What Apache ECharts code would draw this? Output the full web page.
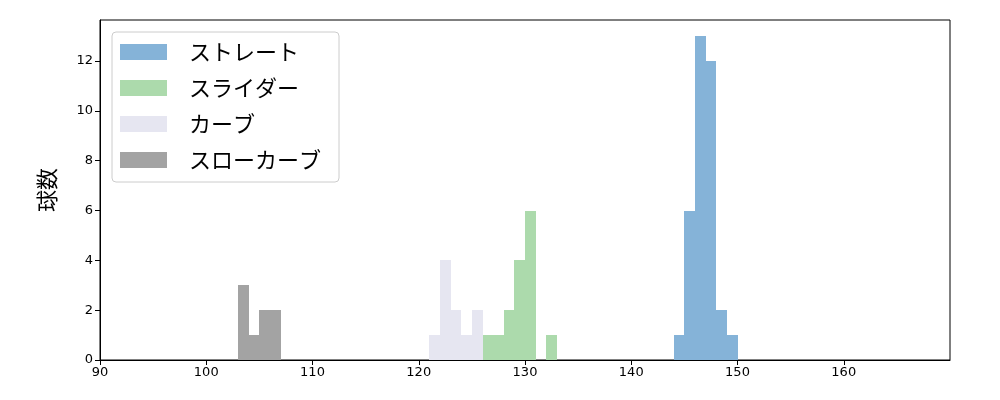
<!DOCTYPE html>
<html>
<head>
<meta charset="utf-8">
<script src="https://cdn.jsdelivr.net/npm/echarts@6/dist/echarts.min.js"></script>
<style>
    html, body { margin: 0; padding: 0; background: #fff; }
    #char1 { width: 1000px; height: 400px; }
</style>
</head>
<body>
<div id="char1"></div>
<script>
    // 球種ごとのヒストグラム (ビン開始値, 球数), ビン幅 1
    var names = ['ストレート', 'スライダー', 'カーブ', 'スローカーブ'];
    var colors = ['#85b3d8', '#acdaac', '#e6e6f1', '#a3a3a3'];

    var straightBins = [144, 145, 146, 147, 148, 149];
    var straightCounts = [1, 6, 13, 12, 2, 1];

    var sliderBins = [126, 127, 128, 129, 130, 132];
    var sliderCounts = [1, 1, 2, 4, 6, 1];

    var curveBins = [121, 122, 123, 124, 125];
    var curveCounts = [1, 4, 2, 1, 2];

    var slowCurveBins = [103, 104, 105, 106];
    var slowCurveCounts = [3, 1, 2, 2];

    var binWidth = 1;
    var xTicks = [90, 100, 110, 120, 130, 140, 150, 160];
    var yTicks = [0, 2, 4, 6, 8, 10, 12];

    var font = '"Noto Sans CJK JP", "DejaVu Sans", sans-serif';
    var tickFont = '"DejaVu Sans", sans-serif';

    function toData(bins, counts) {
        var out = [];
        for (var i = 0; i < bins.length; i++) {
            out.push([bins[i], counts[i]]);
        }
        return out;
    }

    // ピクセル境界に丸めて隙間を消す
    function renderBar(params, api) {
        var x0 = api.value(0);
        var y = api.value(1);
        var p1 = api.coord([x0, y]);
        var p2 = api.coord([x0 + binWidth, 0]);
        var left = Math.round(p1[0]);
        var right = Math.round(p2[0]);
        var top = Math.round(p1[1]);
        var bottom = Math.round(p2[1]);
        return {
            type: 'rect',
            shape: {x: left, y: top, width: right - left, height: bottom - top},
            style: {fill: api.visual('color')}
        };
    }

    var allData = [
        toData(straightBins, straightCounts),
        toData(sliderBins, sliderCounts),
        toData(curveBins, curveCounts),
        toData(slowCurveBins, slowCurveCounts)
    ];

    var series = [];
    for (var i = 0; i < names.length; i++) {
        series.push({
            name: names[i],
            type: 'custom',
            renderItem: renderBar,
            encode: {x: 0, y: 1},
            itemStyle: {color: colors[i]},
            data: allData[i]
        });
    }

    var char1 = echarts.init(document.getElementById('char1'));
    char1.setOption({
        animation: false,
        grid: {left: 100, right: 50, top: 20, bottom: 40, show: true, borderColor: '#000', borderWidth: 1},
        legend: {
            orient: 'vertical',
            left: 112,
            top: 32,
            padding: [9, 18, 11, 8],
            itemWidth: 47,
            itemHeight: 16,
            itemGap: 14,
            icon: 'rect',
            borderColor: '#cccccc',
            borderWidth: 1,
            borderRadius: 4,
            backgroundColor: 'rgba(255,255,255,0.8)',
            textStyle: {fontFamily: font, fontSize: 22, color: '#000', padding: [0, 0, 0, 17]},
            data: names
        },
        xAxis: {
            type: 'value',
            min: 90,
            max: 170,
            interval: 10,
            axisLine: {lineStyle: {color: '#000'}},
            axisTick: {length: 5, lineStyle: {color: '#000'}, customValues: xTicks},
            axisLabel: {
                fontFamily: tickFont, fontSize: 13, color: '#000', margin: 6,
                customValues: xTicks
            },
            splitLine: {show: false}
        },
        yAxis: {
            type: 'value',
            min: 0,
            max: 13.65,
            interval: 2,
            name: '球数',
            nameLocation: 'middle',
            nameGap: 42,
            nameTextStyle: {fontFamily: font, fontSize: 22, color: '#000'},
            axisLine: {show: true, lineStyle: {color: '#000'}},
            axisTick: {show: true, length: 5, lineStyle: {color: '#000'}, customValues: yTicks},
            axisLabel: {
                fontFamily: tickFont, fontSize: 13, color: '#000', margin: 7,
                verticalAlign: 'middle', lineHeight: 13, padding: [3, 0, 0, 0],
                customValues: yTicks
            },
            splitLine: {show: false}
        },
        series: series
    });
</script>
</body>
</html>
